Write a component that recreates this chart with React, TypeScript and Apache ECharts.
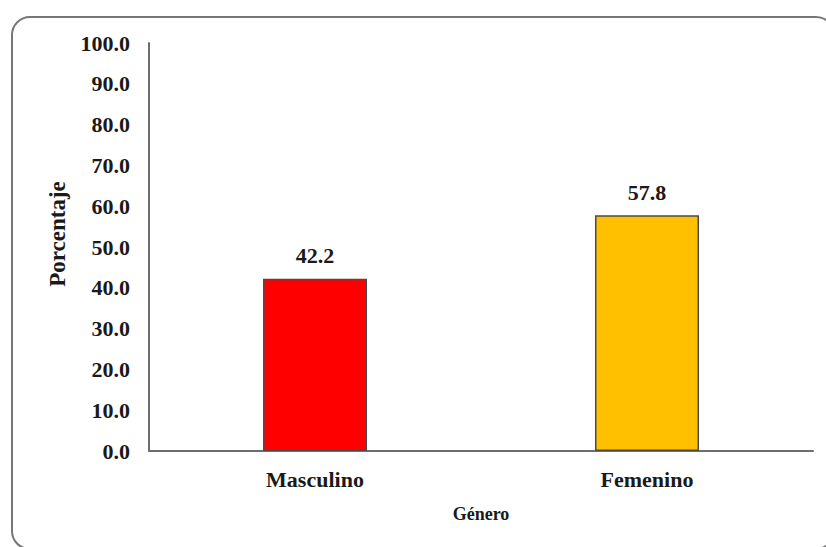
import React, { useEffect, useRef } from "react";
import * as echarts from "echarts";

const categories = ["Masculino", "Femenino"];
const values = [42.2, 57.8];
const barColors = ["#FF0000", "#FFC000"];
const yTitle = "Porcentaje";
const xTitle = "Género";

export default function App() {
  const ref = useRef<HTMLDivElement>(null);
  useEffect(() => {
    if (!ref.current) return;
    const chart = echarts.init(ref.current, null, { renderer: "svg" });
    const font = "'Liberation Serif', 'Times New Roman', serif";
    chart.setOption({
      animation: false,
      backgroundColor: "#ffffff",
      graphic: [
        {
          type: "rect",
          shape: { x: 12, y: 17, width: 822, height: 532, r: 18 },
          style: { fill: "none", stroke: "#767676", lineWidth: 2 },
          z: -1,
        },
      ],
      grid: { left: 149, right: 13, top: 43, bottom: 96, containLabel: false },
      xAxis: {
        type: "category",
        data: categories,
        name: xTitle,
        nameLocation: "middle",
        nameGap: 54,
        nameTextStyle: { fontFamily: font, fontWeight: "bold", fontSize: 18, color: "#1a1a1a" },
        axisLine: { lineStyle: { color: "#6e6e6e", width: 2 } },
        axisTick: { show: false },
        axisLabel: { fontFamily: font, fontWeight: "bold", fontSize: 22, color: "#1a1a1a", margin: 17 },
      },
      yAxis: {
        type: "value",
        min: 0,
        max: 100,
        interval: 10,
        name: yTitle,
        nameLocation: "middle",
        nameGap: 80,
        nameTextStyle: {
          fontFamily: font,
          fontWeight: "bold",
          fontSize: 23,
          color: "#1a1a1a",
          padding: [0, 0, 0, 26],
        },
        axisLine: { show: true, lineStyle: { color: "#6e6e6e", width: 2 } },
        axisTick: { show: false },
        splitLine: { show: false },
        axisLabel: {
          fontFamily: font,
          fontWeight: "bold",
          fontSize: 22,
          color: "#1a1a1a",
          margin: 19,
          formatter: (v: number) => v.toFixed(1),
        },
      },
      series: [
        {
          type: "bar",
          barWidth: 104,
          data: values.map((v, i) => ({
            value: v,
            itemStyle: { color: barColors[i], borderColor: "#4a4a4a", borderWidth: 1.5 },
          })),
          label: {
            show: true,
            position: "top",
            distance: 12,
            fontFamily: font,
            fontWeight: "bold",
            fontSize: 22,
            color: "#1a1a1a",
            formatter: (p: any) => p.value.toFixed(1),
          },
        },
      ],
    });
    return () => chart.dispose();
  }, []);
  return (
    <div
      ref={ref}
      style={{ position: "fixed", left: 0, top: 0, width: 826, height: 547 }}
    />
  );
}
